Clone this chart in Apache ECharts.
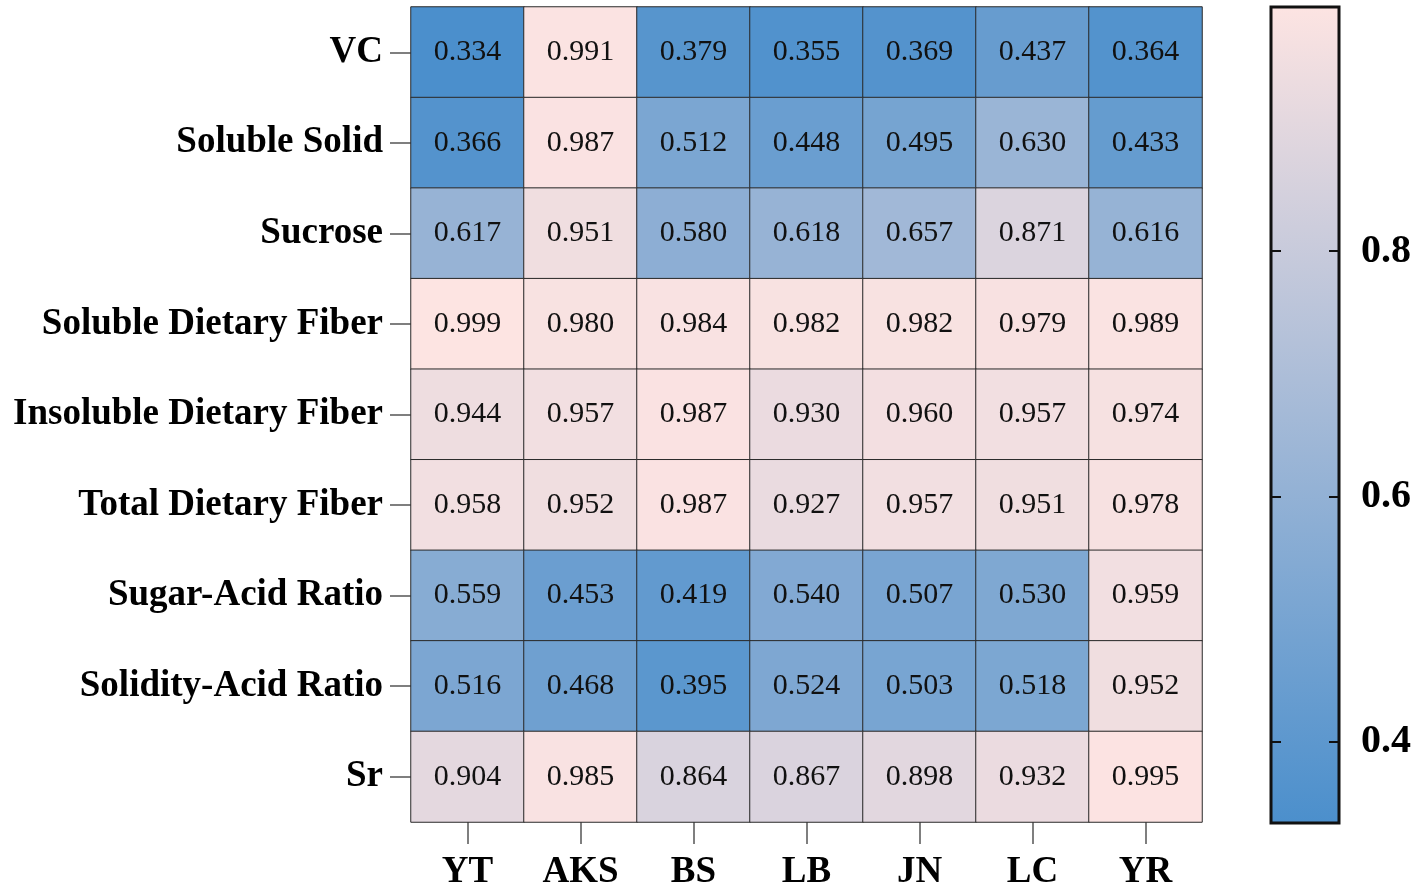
<!DOCTYPE html>
<html>
<head>
<meta charset="utf-8">
<script src="https://cdn.jsdelivr.net/npm/echarts@6/dist/echarts.min.js"></script>
<style>
  html, body { margin: 0; padding: 0; background: #fff; }
  #main { width: 1417px; height: 891px; }
</style>
</head>
<body>
<div id="main"></div>
<script>
// 热图数据
var sites = ['YT', 'AKS', 'BS', 'LB', 'JN', 'LC', 'YR'];
var traits = ['VC', 'Soluble Solid', 'Sucrose', 'Soluble Dietary Fiber', 'Insoluble Dietary Fiber',
              'Total Dietary Fiber', 'Sugar-Acid Ratio', 'Solidity-Acid Ratio', 'Sr'];
var values = [
  [0.334, 0.991, 0.379, 0.355, 0.369, 0.437, 0.364],
  [0.366, 0.987, 0.512, 0.448, 0.495, 0.630, 0.433],
  [0.617, 0.951, 0.580, 0.618, 0.657, 0.871, 0.616],
  [0.999, 0.980, 0.984, 0.982, 0.982, 0.979, 0.989],
  [0.944, 0.957, 0.987, 0.930, 0.960, 0.957, 0.974],
  [0.958, 0.952, 0.987, 0.927, 0.957, 0.951, 0.978],
  [0.559, 0.453, 0.419, 0.540, 0.507, 0.530, 0.959],
  [0.516, 0.468, 0.395, 0.524, 0.503, 0.518, 0.952],
  [0.904, 0.985, 0.864, 0.867, 0.898, 0.932, 0.995]
];
var barTicks = [0.4, 0.6, 0.8];
var vMin = 0.334, vMax = 0.999;
var lowColor = '#4b8fcc', highColor = '#fde4e2';

var font = "'Liberation Serif', 'Times New Roman', serif";
var myChart = echarts.init(document.getElementById('main'));

var heatData = [];
for (var r = 0; r < traits.length; r++) {
  for (var c = 0; c < sites.length; c++) {
    heatData.push([c, r, values[r][c]]);
  }
}

var option = {
  backgroundColor: '#fff',
  animation: false,
  grid: [
    { left: 411, right: 215, top: 7, bottom: 68 },
    {
      left: 1271, width: 68, top: 7, height: 816,
      show: true, borderColor: '#111', borderWidth: 3,
      backgroundColor: {
        type: 'linear', x: 0, y: 0, x2: 0, y2: 1,
        colorStops: [{ offset: 0, color: highColor }, { offset: 1, color: lowColor }]
      }
    }
  ],
  xAxis: [
    {
      type: 'category', gridIndex: 0, data: sites,
      axisLine: { show: false },
      axisTick: { show: true, alignWithLabel: true, length: 22, lineStyle: { color: '#555', width: 1.5 } },
      axisLabel: { margin: 32, fontFamily: font, fontSize: 37, fontWeight: 'bold', color: '#000' },
      splitLine: { show: false }
    },
    { type: 'value', gridIndex: 1, show: false, min: 0, max: 1 }
  ],
  yAxis: [
    {
      type: 'category', gridIndex: 0, data: traits, inverse: true,
      axisLine: { show: false },
      axisTick: { show: true, alignWithLabel: true, length: 21, lineStyle: { color: '#555', width: 1.5 } },
      axisLabel: { margin: 28, fontFamily: font, fontSize: 37, fontWeight: 'bold', color: '#000' },
      splitLine: { show: false }
    },
    {
      type: 'value', gridIndex: 1, position: 'left', min: vMin, max: vMax,
      axisLine: { show: false },
      axisTick: { show: true, inside: true, length: 10, customValues: barTicks, lineStyle: { color: '#111', width: 2 } },
      axisLabel: { show: false },
      splitLine: { show: false }
    },
    {
      type: 'value', gridIndex: 1, position: 'right', min: vMin, max: vMax,
      axisLine: { show: false },
      axisTick: { show: true, inside: true, length: 10, customValues: barTicks, lineStyle: { color: '#111', width: 2 } },
      axisLabel: {
        show: true, margin: 22, customValues: barTicks, formatter: function (v) { return v.toFixed(1); },
        fontFamily: font, fontSize: 40, fontWeight: 'bold', color: '#000'
      },
      splitLine: { show: false }
    }
  ],
  visualMap: {
    show: false, seriesIndex: 0, min: vMin, max: vMax,
    inRange: { color: [lowColor, highColor] }
  },
  series: [
    {
      type: 'heatmap', xAxisIndex: 0, yAxisIndex: 0, data: heatData,
      itemStyle: { borderColor: '#2a2a2a', borderWidth: 1 },
      label: {
        show: true, fontFamily: font, fontSize: 30, color: '#111',
        formatter: function (p) { return p.value[2].toFixed(3); }
      }
    }
  ]
};

myChart.setOption(option);
</script>
</body>
</html>
